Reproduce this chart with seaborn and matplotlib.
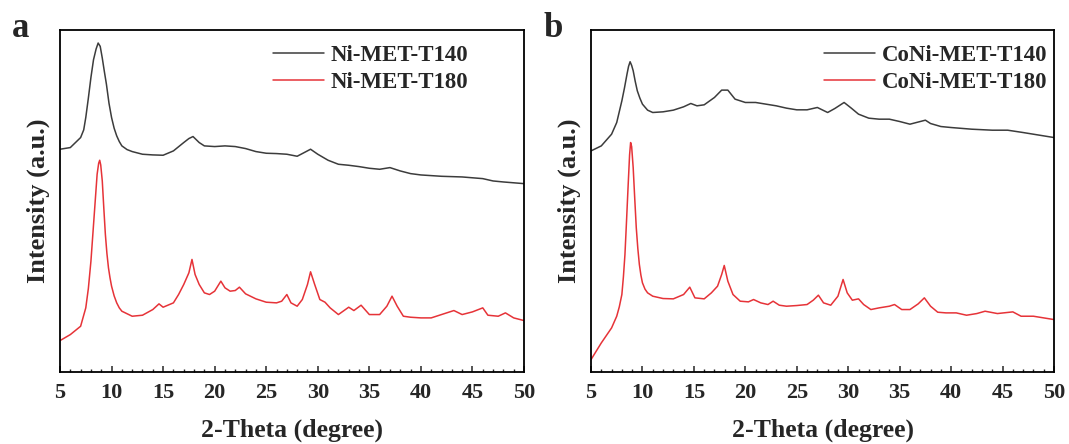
import matplotlib
matplotlib.use("Agg")
import matplotlib.pyplot as plt
from matplotlib.ticker import MultipleLocator
import seaborn as sns
import pandas as pd

# ---------------- data (arbitrary intensity units) ----------------
ni140_x = [5, 6, 7, 7.3, 7.5, 7.75, 8, 8.25, 8.5, 8.7, 8.9, 9.1, 9.3, 9.5, 9.75, 10, 10.25, 10.5, 10.75, 11,
           11.5, 12, 13, 14, 15, 16, 17, 17.5, 17.9,
           18.5, 19, 20, 21, 22, 23, 24, 25, 26, 27, 28, 28.5, 29.3, 30, 31, 32, 33, 34, 35, 36,
           37, 38, 39, 40, 42, 44, 46, 47, 48, 50]
ni140_y = [667, 672, 702, 725, 762, 820, 882, 935, 967, 985, 975, 940, 900, 862, 805, 762, 730, 707, 690, 677,
           666, 660, 652, 650, 649, 662, 687, 699, 705,
           687, 677, 675, 677, 675, 669, 660, 655, 654, 652, 646, 654, 667, 652, 634, 622, 619, 615, 610, 607,
           612, 602, 594, 590, 586, 584, 579, 572, 569, 564]

ni180_x = [5, 6, 7, 7.5, 7.75, 8, 8.3, 8.6, 8.75, 8.85, 8.95, 9.1, 9.25, 9.4, 9.55, 9.7, 9.85, 10, 10.25, 10.5,
           10.75, 11, 12, 13, 14, 14.6, 15, 16,
           16.5, 17, 17.5, 17.8, 18.1, 18.5, 19, 19.5, 20, 20.6, 21, 21.5, 22, 22.4, 23, 24, 25, 26, 26.5, 27,
           27.4, 28, 28.5, 29, 29.3, 29.7, 30.2, 30.7, 31.2, 32, 33, 33.5, 34.2, 35, 36, 36.7, 37.2, 37.7, 38.3, 39,
           40, 41, 42, 43.2, 44, 45, 46, 46.5, 47.5, 48.2, 49, 50]
ni180_y = [94, 112, 137, 192, 250, 332, 462, 592, 625, 634, 620, 572, 490, 412, 355, 312, 282, 257, 228, 207,
           192, 182, 167, 170, 187, 204, 194, 207,
           232, 262, 297, 337, 292, 262, 237, 232, 242, 272, 252, 242, 244, 254, 234, 219, 209, 207, 212, 232,
           207, 197, 217, 262, 300, 262, 217, 209, 192, 172, 194, 184, 200, 172, 172, 197, 227, 197, 167, 164,
           162, 162, 172, 184, 172, 180, 192, 170, 167, 177, 162, 154]

coni140_x = [5, 6, 7, 7.5, 8, 8.25, 8.5, 8.65, 8.8, 8.95, 9.1, 9.3, 9.5, 9.75, 10, 10.5, 11, 12, 13, 14, 14.7, 15.3, 16, 17, 17.7,
             18.3, 19, 20, 21, 22, 23, 24, 25, 26, 27, 28, 28.7, 29.6, 30.3, 31, 32, 33, 34, 35, 36,
             37, 37.5, 38, 39, 40, 42, 44, 45.5, 47, 48, 50]
coni140_y = [662, 677, 712, 747, 812, 850, 892, 915, 929, 918, 902, 870, 842, 820, 802, 784, 777, 779, 784, 794, 804, 797, 800, 822, 844,
             844, 817, 807, 807, 802, 797, 790, 785, 785, 792, 777, 789, 807, 790, 772, 760, 757, 757, 750, 742,
             750, 754, 744, 735, 732, 727, 724, 724, 717, 712, 702]

coni180_x = [5, 6, 7, 7.5, 7.75, 8, 8.15, 8.3, 8.45, 8.6, 8.75, 8.85, 8.95, 9.1, 9.25, 9.4, 9.55, 9.7, 9.85, 10, 10.25, 10.5, 11, 12, 13, 14, 14.6, 15.1, 16,
             16.7, 17.3, 17.7, 17.95, 18.3, 18.8, 19.5, 20.3, 20.8, 21.5, 22.2, 22.7, 23.3, 24, 25, 26, 26.6, 27.1, 27.6, 28.3,
             29, 29.5, 29.9, 30.4, 31, 31.5, 32.2, 33, 34, 34.5, 35.2, 36, 36.8, 37.4, 38, 38.7, 39.5, 40.5, 41.5, 42.5,
             43.3, 44.5, 46, 46.8, 48, 49, 50]
coni180_y = [37, 87, 132, 167, 195, 232, 285, 352, 450, 552, 650, 687, 675, 612, 520, 432, 370, 322, 290, 267, 248, 237, 227, 220, 219, 232, 254, 222, 219,
             237, 257, 292, 319, 272, 232, 212, 210, 217, 207, 202, 212, 200, 197, 199, 202, 215, 230, 207, 200,
             227, 277, 237, 215, 219, 202, 187, 192, 197, 202, 187, 187, 204, 222, 197, 179, 177, 177, 170, 175,
             182, 175, 180, 167, 167, 162, 157]

labels_a = ["Ni-MET-T140", "Ni-MET-T180"]
labels_b = ["CoNi-MET-T140", "CoNi-MET-T180"]
xticks = [5, 10, 15, 20, 25, 30, 35, 40, 45, 50]

# ---------------- style ----------------
sns.set_theme(style="ticks")
plt.rcParams["font.family"] = ["Liberation Serif", "DejaVu Serif"]
plt.rcParams["font.weight"] = "bold"
plt.rcParams["axes.labelweight"] = "bold"

BLACK = "#3c3c3c"
RED = "#e63338"

fig = plt.figure(figsize=(10.69, 4.44), dpi=100)
ax_a = fig.add_axes([60 / 1069, 72 / 444, 464 / 1069, 342 / 444])
ax_b = fig.add_axes([591 / 1069, 72 / 444, 463 / 1069, 342 / 444])

panels = [
    (ax_a, (ni140_x, ni140_y), (ni180_x, ni180_y), labels_a, "a", 12, 468),
    (ax_b, (coni140_x, coni140_y), (coni180_x, coni180_y), labels_b, "b", 543, 1047),
]

for ax, s1, s2, labs, letter, lx, legx in panels:
    d1 = pd.DataFrame({"x": s1[0], "y": s1[1]})
    d2 = pd.DataFrame({"x": s2[0], "y": s2[1]})
    sns.lineplot(data=d1, x="x", y="y", ax=ax, color=BLACK, lw=1.1, label=labs[0],
                 estimator=None, sort=False)
    sns.lineplot(data=d2, x="x", y="y", ax=ax, color=RED, lw=1.1, label=labs[1],
                 estimator=None, sort=False)
    ax.set_xlim(5, 50)
    ax.set_ylim(0, 1024)
    ax.set_xticks(xticks)
    ax.xaxis.set_minor_locator(MultipleLocator(1))
    ax.set_yticks([])
    ax.tick_params(axis="x", which="major", direction="in", length=4.5, width=1.1,
                   labelsize=16, pad=8)
    ax.tick_params(axis="x", which="minor", direction="in", length=2.5, width=1.0)
    for lbl in ax.get_xticklabels():
        lbl.set_fontweight("bold")
    for sp in ax.spines.values():
        sp.set_visible(True)
        sp.set_linewidth(1.3)
        sp.set_color("black")
    ax.set_xlabel("2-Theta (degree)", fontsize=18.5, fontweight="bold", labelpad=11)
    ax.set_ylabel("Intensity (a.u.)", fontsize=19, fontweight="bold", labelpad=7)
    ax.legend(loc="upper right", bbox_to_anchor=(legx / 1069, 1 - 45 / 444),
              bbox_transform=fig.transFigure, frameon=False,
              prop={"weight": "bold", "size": 16.5}, handlelength=2.2,
              handletextpad=0.3, labelspacing=0.25, borderaxespad=0.0, borderpad=0.0)
    fig.text(lx / 1069, 1 - 37 / 444, letter, fontsize=25, fontweight="bold",
             ha="left", va="baseline")

fig.savefig("out.png", dpi=100)
